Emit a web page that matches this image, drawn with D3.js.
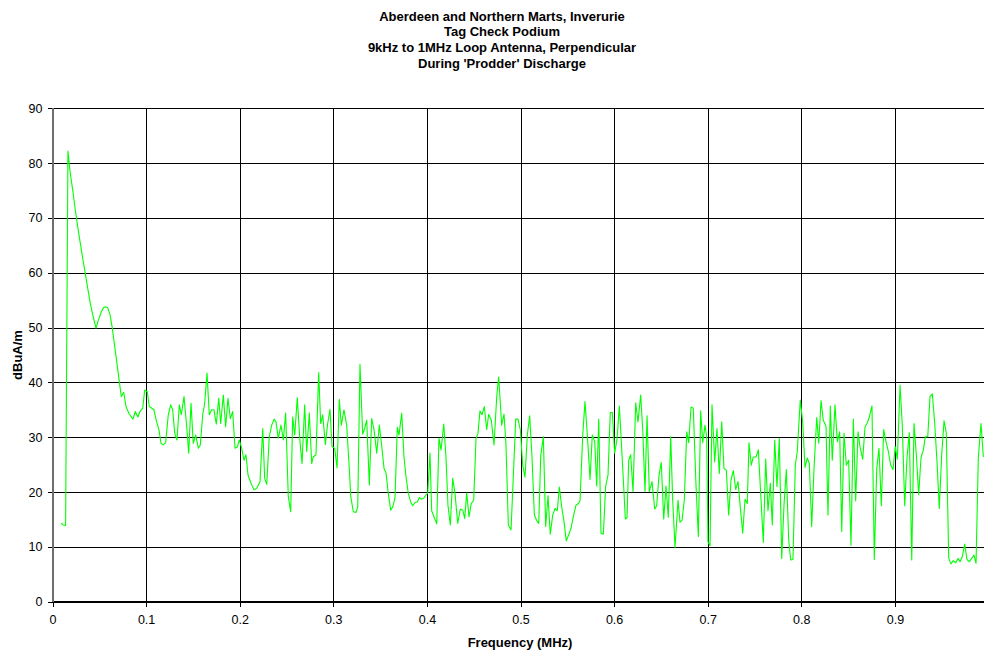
<!DOCTYPE html>
<html>
<head>
<meta charset="utf-8">
<script src="https://cdn.jsdelivr.net/npm/d3@7"></script>
<style>
  html, body { margin: 0; padding: 0; background: #fff; }
  svg { display: block; }
  text { font-family: "Liberation Sans", Arial, Helvetica, sans-serif; fill: #000; }
</style>
</head>
<body>
<svg id="chart" width="984" height="653"></svg>
<script>
// Chart text
const titleLines = [
  "Aberdeen and Northern Marts, Inverurie",
  "Tag Check Podium",
  "9kHz to 1MHz Loop Antenna, Perpendicular",
  "During 'Prodder' Discharge"
];
const xAxisTitle = "Frequency (MHz)";
const yAxisTitle = "dBuA/m";

// Axis ticks
const xTicks = [0, 0.1, 0.2, 0.3, 0.4, 0.5, 0.6, 0.7, 0.8, 0.9];
const xTickLabels = ["0", "0.1", "0.2", "0.3", "0.4", "0.5", "0.6", "0.7", "0.8", "0.9"];
const yTicks = [0, 10, 20, 30, 40, 50, 60, 70, 80, 90];

// Sweep: frequency (MHz) and field strength (dBuA/m)
const freqMHz = [
  0.0091, 0.0115, 0.0140, 0.0165, 0.0190, 0.0216, 0.0244, 0.0272, 0.0297, 0.0323,
  0.0350, 0.0376, 0.0404, 0.0430, 0.0465, 0.0491, 0.0518, 0.0543, 0.0566, 0.0590,
  0.0614, 0.0639, 0.0735, 0.0761, 0.0785, 0.0821, 0.0860, 0.0885, 0.0913, 0.0935,
  0.0964, 0.0985, 0.1013, 0.1034, 0.1084, 0.1113, 0.1138, 0.1159, 0.1184, 0.1209,
  0.1237, 0.1263, 0.1284, 0.1306, 0.1330, 0.1355, 0.1376, 0.1405, 0.1434, 0.1455,
  0.1480, 0.1504, 0.1530, 0.1558, 0.1579, 0.1605, 0.1626, 0.1651, 0.1675, 0.1701,
  0.1725, 0.1750, 0.1776, 0.1797, 0.1825, 0.1850, 0.1875, 0.1900, 0.1925, 0.1950,
  0.1974, 0.1996, 0.2021, 0.2046, 0.2067, 0.2089, 0.2121, 0.2153, 0.2182,
  0.2217, 0.2246, 0.2267, 0.2289, 0.2316, 0.2342, 0.2367, 0.2388, 0.2412, 0.2441,
  0.2466, 0.2491, 0.2519, 0.2545, 0.2566, 0.2588, 0.2615, 0.2644, 0.2666, 0.2694,
  0.2716, 0.2744, 0.2769, 0.2786, 0.2815, 0.2844, 0.2865, 0.2887, 0.2915, 0.2940,
  0.2965, 0.2986, 0.3015, 0.3040, 0.3064, 0.3086, 0.3114, 0.3143, 0.3171, 0.3186,
  0.3214, 0.3243, 0.3261, 0.3285, 0.3314, 0.3336, 0.3357, 0.3385, 0.3410, 0.3435,
  0.3464, 0.3492,
  0.3517, 0.3542, 0.3563, 0.3588, 0.3613, 0.3635, 0.3659, 0.3684, 0.3702, 0.3731,
  0.3755, 0.3777, 0.3801, 0.3827, 0.3848, 0.3873, 0.3898, 0.3919, 0.3940, 0.3969,
  0.3990, 0.4009, 0.4033, 0.4051, 0.4076, 0.4105, 0.4129, 0.4151, 0.4180, 0.4204,
  0.4225, 0.4250, 0.4276, 0.4300, 0.4329, 0.4357, 0.4383, 0.4404, 0.4425, 0.4450,
  0.4474, 0.4500, 0.4525, 0.4546, 0.4567, 0.4589, 0.4613, 0.4639, 0.4660, 0.4688,
  0.4717, 0.4746, 0.4767,
  0.4799, 0.4824, 0.4845, 0.4870, 0.4899, 0.4923, 0.4949, 0.4973, 0.4998, 0.5024,
  0.5048, 0.5073, 0.5098, 0.5123, 0.5148, 0.5173, 0.5195, 0.5216, 0.5244, 0.5269,
  0.5294, 0.5318, 0.5344, 0.5369, 0.5393, 0.5415, 0.5440, 0.5465, 0.5489, 0.5515,
  0.5540, 0.5564, 0.5593, 0.5618, 0.5636, 0.5665, 0.5689, 0.5714, 0.5743, 0.5767,
  0.5793, 0.5814, 0.5836, 0.5860, 0.5885, 0.5910, 0.5935, 0.5959, 0.5981, 0.6006,
  0.6031, 0.6056,
  0.6081, 0.6103, 0.6120, 0.6138, 0.6156, 0.6177, 0.6202, 0.6231, 0.6255, 0.6284,
  0.6306, 0.6330, 0.6352, 0.6376, 0.6405, 0.6434, 0.6455, 0.6480, 0.6504, 0.6530,
  0.6555, 0.6579, 0.6605, 0.6626, 0.6651, 0.6683, 0.6704, 0.6726, 0.6750, 0.6776,
  0.6797, 0.6822, 0.6846, 0.6875, 0.6900, 0.6925, 0.6947, 0.6971, 0.6989, 0.7003,
  0.7025, 0.7046, 0.7075, 0.7099, 0.7124, 0.7150, 0.7174, 0.7199, 0.7224, 0.7249,
  0.7274, 0.7299, 0.7324, 0.7348, 0.7374, 0.7399, 0.7423,
  0.7441, 0.7466, 0.7487, 0.7516, 0.7541, 0.7570, 0.7594, 0.7620, 0.7644, 0.7669,
  0.7690, 0.7716, 0.7740, 0.7765, 0.7791, 0.7815, 0.7840, 0.7865, 0.7887, 0.7911,
  0.7936, 0.7957, 0.7989, 0.8015, 0.8040, 0.8064, 0.8086, 0.8111, 0.8136, 0.8165,
  0.8186, 0.8211, 0.8235, 0.8264, 0.8285, 0.8310, 0.8331, 0.8360, 0.8385, 0.8410,
  0.8432, 0.8456, 0.8481, 0.8506, 0.8531, 0.8556, 0.8581, 0.8606,
  0.8627, 0.8656, 0.8681, 0.8705, 0.8727, 0.8755, 0.8780, 0.8806, 0.8830, 0.8855,
  0.8880, 0.8905, 0.8930, 0.8955, 0.8980, 0.9004, 0.9026, 0.9055, 0.9079, 0.9105,
  0.9129, 0.9154, 0.9180, 0.9204, 0.9229, 0.9254, 0.9279, 0.9304, 0.9325, 0.9351,
  0.9375, 0.9400, 0.9425, 0.9450, 0.9474, 0.9500, 0.9525, 0.9549, 0.9575, 0.9599,
  0.9624, 0.9650, 0.9674, 0.9696, 0.9720, 0.9746, 0.9770, 0.9795, 0.9821, 0.9845,
  0.9867, 0.9891, 0.9920, 0.9945
];
const levelDb = [
  14.3, 14.0, 13.9, 82.2, 78.1, 75.1, 71.4, 68.1, 65.4, 62.6,
  59.9, 57.2, 54.4, 52.3, 49.9, 51.4, 52.7, 53.6, 53.8, 53.6,
  52.4, 49.9, 37.4, 38.2, 35.6, 34.2, 33.3, 34.7, 33.7, 34.7,
  35.3, 38.6, 38.3, 35.6, 35.0, 32.8, 31.3, 28.9, 28.6, 29.0,
  34.1, 35.9, 35.0, 30.7, 29.5, 35.9, 34.1, 37.4, 31.9, 27.1,
  36.2, 28.9, 30.4, 28.0, 28.6, 34.1, 36.2, 41.7, 34.1, 35.0,
  35.0, 32.4, 37.1, 32.5, 37.7, 31.9, 37.1, 33.4, 34.7, 28.0,
  28.2, 29.5, 28.0, 25.8, 26.8, 23.1, 21.6, 20.4, 20.7,
  21.9, 31.6, 22.5, 21.4, 30.1, 32.2, 33.3, 32.8, 29.8, 32.2,
  29.5, 34.4, 19.2, 16.4, 33.7, 30.4, 37.2, 29.2, 25.2, 35.9,
  27.4, 34.4, 25.2, 26.4, 26.8, 41.8, 32.5, 34.1, 28.7, 32.5,
  35.1, 28.3, 28.0, 24.4, 36.9, 32.2, 35.0, 32.2, 24.3, 19.2,
  16.4, 16.3, 17.3, 43.3, 30.6, 31.6, 33.1, 21.3, 33.4, 31.4,
  27.1, 32.2,
  28.5, 24.3, 23.5, 19.7, 16.7, 17.3, 18.9, 31.8, 30.4, 34.4,
  26.4, 22.8, 19.8, 18.2, 17.5, 18.1, 18.2, 19.0, 18.7, 18.9,
  19.5, 19.8, 27.1, 16.6, 15.5, 14.2, 29.8, 27.7, 32.4, 26.4,
  17.6, 14.0, 22.5, 19.8, 14.3, 16.9, 16.7, 15.2, 19.8, 15.5,
  17.9, 18.5, 29.8, 30.7, 34.8, 34.1, 35.6, 31.4, 34.2, 33.1,
  28.6, 37.4, 41.0,
  32.2, 34.2, 28.6, 14.0, 13.1, 22.8, 33.3, 33.3, 31.4, 24.9,
  22.7, 30.4, 33.9, 26.4, 15.8, 14.8, 14.3, 26.6, 30.1, 13.7,
  19.3, 12.3, 15.8, 17.0, 16.6, 20.9, 17.3, 14.6, 11.1, 12.2,
  13.4, 15.5, 17.6, 17.9, 18.4, 30.4, 36.5, 30.4, 22.3, 30.4,
  29.2, 21.1, 33.3, 12.5, 12.3, 21.1, 23.1, 34.5, 34.5, 27.1,
  29.6, 35.7,
  28.0, 20.8, 15.1, 15.3, 25.8, 26.8, 20.1, 36.3, 32.8, 37.7,
  31.3, 20.1, 33.9, 20.1, 21.9, 16.9, 17.5, 23.1, 25.4, 15.1,
  21.1, 15.4, 30.1, 18.5, 9.9, 18.5, 14.5, 14.9, 18.5, 31.0,
  29.0, 35.5, 35.3, 21.3, 11.9, 34.8, 29.0, 32.2, 30.1, 10.9,
  10.2, 35.9, 25.5, 31.6, 23.4, 32.8, 24.3, 24.0, 15.8, 22.2,
  23.9, 20.5, 21.9, 17.3, 12.5, 18.7, 17.9,
  29.0, 24.9, 26.4, 26.4, 27.7, 18.5, 10.8, 26.0, 16.6, 21.6,
  14.0, 29.5, 21.0, 29.8, 7.9, 17.6, 24.1, 11.4, 7.6, 7.7,
  24.9, 27.4, 36.8, 32.8, 24.5, 26.2, 25.2, 13.7, 24.3, 33.6,
  28.9, 36.7, 33.1, 32.0, 15.8, 35.7, 25.8, 35.9, 29.2, 31.0,
  12.8, 30.7, 24.9, 25.8, 10.3, 33.3, 18.4, 31.0,
  28.3, 26.0, 31.9, 32.6, 33.7, 35.7, 7.7, 24.3, 28.0, 17.5,
  31.4, 29.2, 27.4, 24.9, 24.1, 28.3, 26.0, 39.5, 32.2, 17.5,
  26.2, 30.8, 7.6, 32.5, 26.8, 19.5, 26.3, 27.7, 30.1, 30.1,
  37.4, 37.9, 32.6, 25.5, 17.0, 26.8, 33.0, 30.8, 7.9, 6.9,
  7.5, 7.1, 7.9, 7.3, 8.2, 10.5, 7.7, 7.3, 7.9, 8.5,
  7.0, 26.2, 32.5, 26.4
];

const sweep = freqMHz.map((f, i) => ({ f, v: levelDb[i] }));

const W = 984, H = 653;
const plot = { left: 52.5, top: 108.3, bottom: 601.7, right: 988.5 };

const svg = d3.select("#chart");

const x = d3.scaleLinear().domain([0, 1]).range([plot.left, plot.right]);
const y = d3.scaleLinear().domain([0, 90]).range([plot.bottom, plot.top]);

// Horizontal gridlines
svg.append("g")
  .attr("transform", `translate(${plot.left},0)`)
  .call(d3.axisLeft(y).tickValues(yTicks).tickSize(-(W - plot.left)).tickFormat(""))
  .call(g => g.select(".domain").remove())
  .call(g => g.selectAll("line").attr("stroke", "#000").attr("shape-rendering", "crispEdges"));

// Vertical gridlines
svg.append("g")
  .attr("transform", `translate(0,${plot.top})`)
  .call(d3.axisBottom(x).tickValues(xTicks.slice(1)).tickSize(plot.bottom - plot.top).tickFormat(""))
  .call(g => g.select(".domain").remove())
  .call(g => g.selectAll("line").attr("stroke", "#000").attr("shape-rendering", "crispEdges"));

// Y axis with ticks and labels
const yAxis = svg.append("g")
  .attr("transform", `translate(${plot.left},0)`)
  .call(d3.axisLeft(y).tickValues(yTicks).tickSize(5).tickPadding(5).tickFormat(d3.format("d")));
yAxis.select(".domain").remove();
yAxis.selectAll("line").attr("stroke", "#000").attr("shape-rendering", "crispEdges");
yAxis.selectAll("text")
  .style("font-size", "12.5px")
  .attr("fill", "#000");

// X axis with ticks and labels
const xAxis = svg.append("g")
  .attr("transform", `translate(0,${plot.bottom})`)
  .call(d3.axisBottom(x).tickValues(xTicks).tickSize(5).tickPadding(8)
    .tickFormat((d, i) => xTickLabels[i]));
xAxis.select(".domain").remove();
xAxis.selectAll("line").attr("stroke", "#000").attr("shape-rendering", "crispEdges");
xAxis.selectAll("text")
  .style("font-size", "12.5px")
  .attr("fill", "#000");

// Axis lines
svg.append("line")
  .attr("x1", plot.left).attr("x2", W)
  .attr("y1", plot.bottom).attr("y2", plot.bottom)
  .attr("stroke", "#000").attr("stroke-width", 1)
  .attr("shape-rendering", "crispEdges");
svg.append("line")
  .attr("x1", plot.left).attr("x2", plot.left)
  .attr("y1", plot.top).attr("y2", plot.bottom)
  .attr("stroke", "#6e6e6e").attr("stroke-width", 2)
  .attr("shape-rendering", "crispEdges");

// Measured trace
const line = d3.line().x(d => x(d.f)).y(d => y(d.v));
svg.append("path")
  .datum(sweep)
  .attr("d", line)
  .attr("fill", "none")
  .attr("stroke", "#00ff00")
  .attr("stroke-width", 1.1)
  .attr("stroke-linejoin", "round");

// Title block
svg.append("g")
  .selectAll("text")
  .data(titleLines)
  .join("text")
  .attr("x", 502)
  .attr("y", (d, i) => 20.5 + i * 15.9)
  .attr("text-anchor", "middle")
  .style("font-size", "13px")
  .style("font-weight", "bold")
  .text(d => d);

// Axis titles
svg.append("text")
  .attr("x", 520)
  .attr("y", 646.5)
  .attr("text-anchor", "middle")
  .style("font-size", "13px")
  .style("font-weight", "bold")
  .text(xAxisTitle);

svg.append("text")
  .attr("transform", "translate(21.5,355) rotate(-90)")
  .attr("text-anchor", "middle")
  .style("font-size", "13px")
  .style("font-weight", "bold")
  .text(yAxisTitle);
</script>
</body>
</html>
